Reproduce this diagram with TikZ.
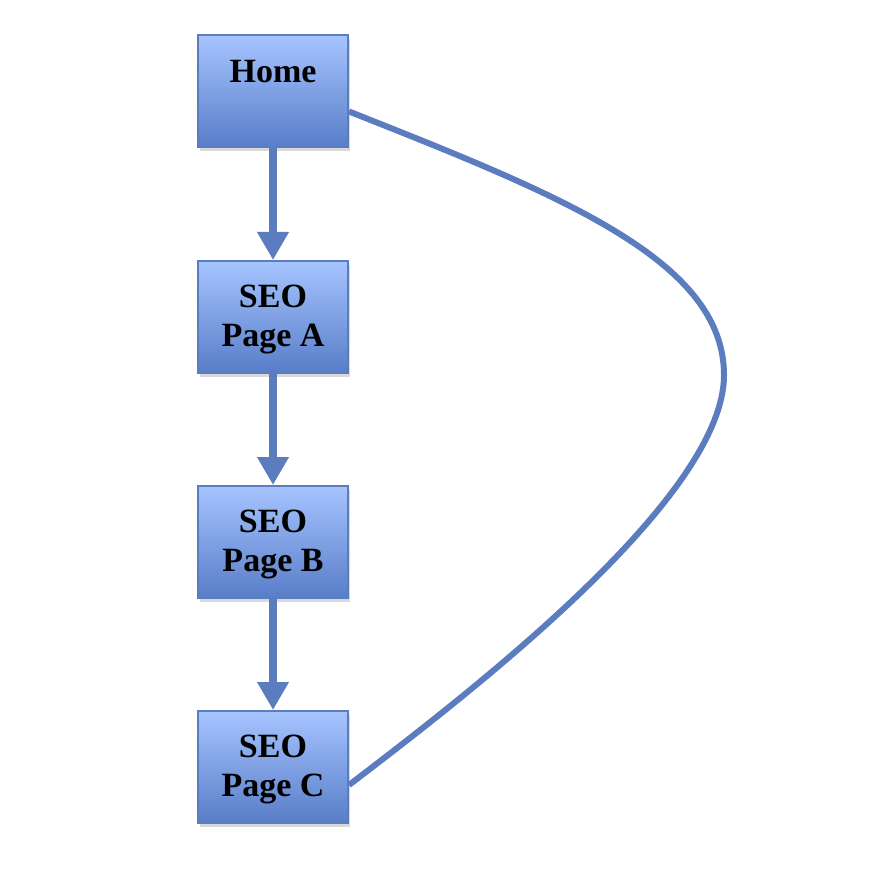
\documentclass[tikz,border=0pt]{standalone}
\usepackage{fontspec}
\setmainfont{Liberation Serif}
\usepackage{tikz}
\usetikzlibrary{arrows.meta,shadows}
\definecolor{linkblue}{HTML}{5B7CBE}
\definecolor{boxtop}{HTML}{A6C4FF}
\definecolor{boxbot}{HTML}{587DC8}

\begin{document}
\begin{tikzpicture}[x=1pt, y=-1pt,
  page/.style={draw=linkblue, line width=2pt, top color=boxtop, bottom color=boxbot,
               minimum width=150pt, minimum height=112pt, align=center,
               text depth=2pt,
               font=\fontsize{34}{39}\selectfont\bfseries,
               drop shadow={shadow xshift=1.5pt, shadow yshift=-4pt, opacity=0.3}},
  flow/.style={-{Triangle[width=30pt, length=28pt]}, line width=8pt, draw=linkblue},
  link/.style={line width=6pt, draw=linkblue}]
\useasboundingbox (0,0) rectangle (872,885);
\node[page, text depth=40.5pt] (home) at (273,91.5) {Home};
\node[page] (pageA) at (273,317)  {SEO\\Page A};
\node[page] (pageB) at (273,542)  {SEO\\Page B};
\node[page] (pageC) at (273,767)  {SEO\\Page C};
\coordinate (bend) at (724,375);
\draw[flow] (home) -- (pageA);
\draw[flow] (pageA) -- (pageB);
\draw[flow] (pageB) -- (pageC);
% long way back from the last page up to home
\draw[link] ([yshift=-20pt]home.east) .. controls (560,195) and (724,260) .. (bend)
  .. controls (724,500) and (460,700) .. ([yshift=-18pt]pageC.east);
\end{tikzpicture}
\end{document}
